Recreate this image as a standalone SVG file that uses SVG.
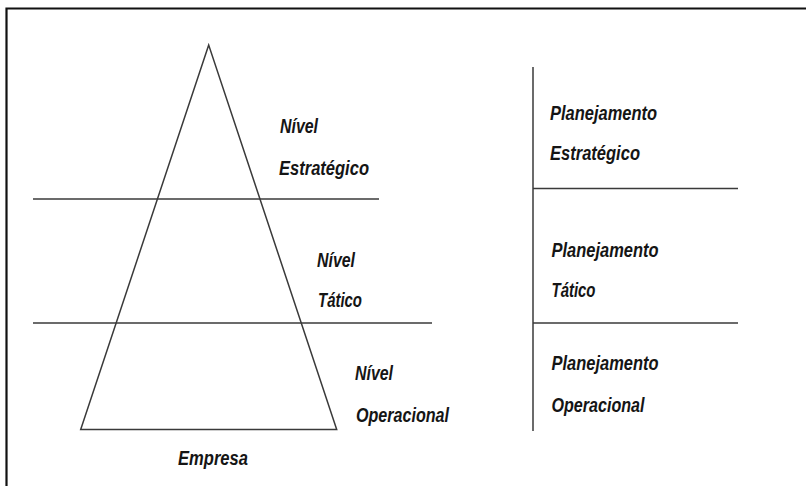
<svg xmlns="http://www.w3.org/2000/svg" width="806" height="486" viewBox="0 0 806 486">
<style>
.ln{stroke:#3a3a3a;stroke-width:1.5;fill:none}
.t{font-family:"Liberation Sans",Arial,sans-serif;font-weight:bold;font-style:italic;font-size:21px;fill:#151515}
</style>
<rect width="806" height="486" fill="#fff"/>
<path d="M6.5 486 V8.5 H806" fill="none" stroke="#111" stroke-width="2.2"/>
<g id="connectors">
<polygon class="ln" points="208.7,45 80.7,429.5 336.7,429.5"/>
<line class="ln" x1="33" y1="199" x2="379" y2="199"/>
<line class="ln" x1="33" y1="323" x2="432" y2="323"/>
<line class="ln" x1="533" y1="67" x2="533" y2="431"/>
<line class="ln" x1="533" y1="188.5" x2="738" y2="188.5"/>
<line class="ln" x1="533" y1="323" x2="738" y2="323"/>
</g>
<g id="nivel-estrategico">
<text class="t" x="280" y="133" textLength="38" lengthAdjust="spacingAndGlyphs">Nível</text>
<text class="t" x="279" y="175" textLength="90" lengthAdjust="spacingAndGlyphs">Estratégico</text>
</g>
<g id="nivel-tatico">
<text class="t" x="317" y="267" textLength="38" lengthAdjust="spacingAndGlyphs">Nível</text>
<text class="t" x="318" y="307" textLength="44" lengthAdjust="spacingAndGlyphs">Tático</text>
</g>
<g id="nivel-operacional">
<text class="t" x="355" y="380" textLength="38" lengthAdjust="spacingAndGlyphs">Nível</text>
<text class="t" x="356" y="421.5" textLength="93" lengthAdjust="spacingAndGlyphs">Operacional</text>
</g>
<g id="empresa">
<text class="t" x="178" y="465" textLength="70" lengthAdjust="spacingAndGlyphs">Empresa</text>
</g>
<g id="plan-estrategico">
<text class="t" x="550" y="120" textLength="107" lengthAdjust="spacingAndGlyphs">Planejamento</text>
<text class="t" x="550" y="160" textLength="90" lengthAdjust="spacingAndGlyphs">Estratégico</text>
</g>
<g id="plan-tatico">
<text class="t" x="551.5" y="256.5" textLength="107" lengthAdjust="spacingAndGlyphs">Planejamento</text>
<text class="t" x="551.5" y="296.5" textLength="44" lengthAdjust="spacingAndGlyphs">Tático</text>
</g>
<g id="plan-operacional">
<text class="t" x="551.5" y="370" textLength="107" lengthAdjust="spacingAndGlyphs">Planejamento</text>
<text class="t" x="551.5" y="411.5" textLength="93" lengthAdjust="spacingAndGlyphs">Operacional</text>
</g>
</svg>
